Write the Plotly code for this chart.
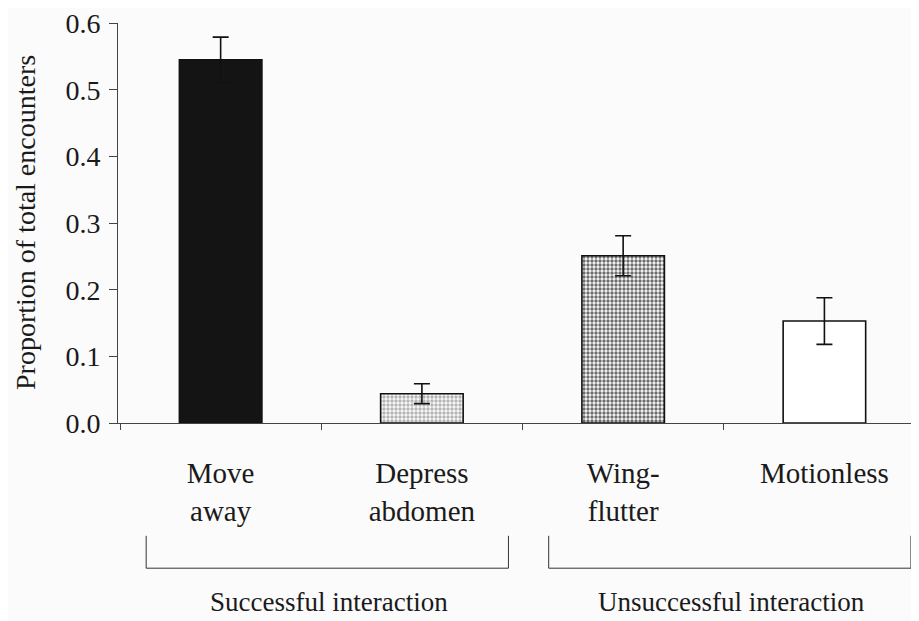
import plotly.graph_objects as go

categories = ["Move<br>away", "Depress<br>abdomen", "Wing-<br>flutter", "Motionless"]
proportions = [0.545, 0.044, 0.251, 0.153]
errors = [0.034, 0.015, 0.030, 0.035]
fill_colors = ["#141414", "#b4b4b4", "#6c6c6c", "#ffffff"]
pattern_fg = ["#141414", "#6e6e6e", "#2e2e2e", "#ffffff"]
pattern_shapes = ["", ".", ".", ""]
group_labels = ["Successful interaction", "Unsuccessful interaction"]
group_members = [[0, 1], [2, 3]]
y_ticks = [0.0, 0.1, 0.2, 0.3, 0.4, 0.5, 0.6]
y_title = "Proportion of total encounters"

FONT = "Liberation Serif, Times New Roman, serif"
TXT = "#1a1a1a"

fig = go.Figure()
fig.add_trace(go.Bar(
    x=categories,
    y=proportions,
    width=0.41,
    marker=dict(
        color=fill_colors,
        line=dict(color="#111111", width=1.6),
        pattern=dict(shape=pattern_shapes, fgcolor=pattern_fg, bgcolor=fill_colors,
                     size=4, solidity=0.55, fillmode="replace"),
    ),
    error_y=dict(type="data", array=errors, visible=True, color="#111111",
                 thickness=1.6, width=8),
    showlegend=False,
))

shapes = []
annotations = []
for label, members in zip(group_labels, group_members):
    x0 = members[0] - 0.37
    x1 = members[-1] + 0.43
    for xv in (x0, x1):
        shapes.append(dict(type="line", xref="x", yref="paper", x0=xv, x1=xv,
                           y0=-0.282, y1=-0.363, line=dict(color="#333333", width=1)))
    shapes.append(dict(type="line", xref="x", yref="paper", x0=x0, x1=x1,
                       y0=-0.363, y1=-0.363, line=dict(color="#333333", width=1)))
    annotations.append(dict(text=label, xref="x", yref="paper",
                            x=(members[0] + members[-1]) / 2 + 0.04, y=-0.447,
                            showarrow=False, xanchor="center", yanchor="middle",
                            font=dict(family=FONT, size=27, color=TXT)))

annotations.append(dict(text=y_title, xref="paper", yref="paper", x=0, y=0.5,
                        xshift=-93, showarrow=False, textangle=-90,
                        xanchor="center", yanchor="middle",
                        font=dict(family=FONT, size=28, color=TXT)))

fig.update_layout(
    width=911, height=613,
    margin=dict(l=110, r=0, t=10, b=198),
    paper_bgcolor="#fbfbfb",
    plot_bgcolor="#fbfbfb",
    font=dict(family=FONT, color=TXT),
    shapes=shapes,
    annotations=annotations,
)
fig.update_xaxes(
    type="category",
    range=[-0.51, 3.47],
    showline=True, linecolor="#444444", linewidth=1,
    ticks="outside", tickson="boundaries", ticklen=6, tickcolor="#444444",
    tickfont=dict(family=FONT, size=29, color=TXT),
    ticklabelstandoff=24,
    showgrid=False, zeroline=False,
)
fig.update_yaxes(
    range=[0, 0.6002],
    tickvals=y_ticks,
    tickformat=".1f",
    showline=True, linecolor="#444444", linewidth=1,
    ticks="outside", ticklen=8, tickcolor="#444444",
    tickfont=dict(family=FONT, size=28, color=TXT),
    ticklabelstandoff=3,
    ticklabeloverflow="allow",
    showgrid=False, zeroline=False,
)

fig.write_html("out.html")
